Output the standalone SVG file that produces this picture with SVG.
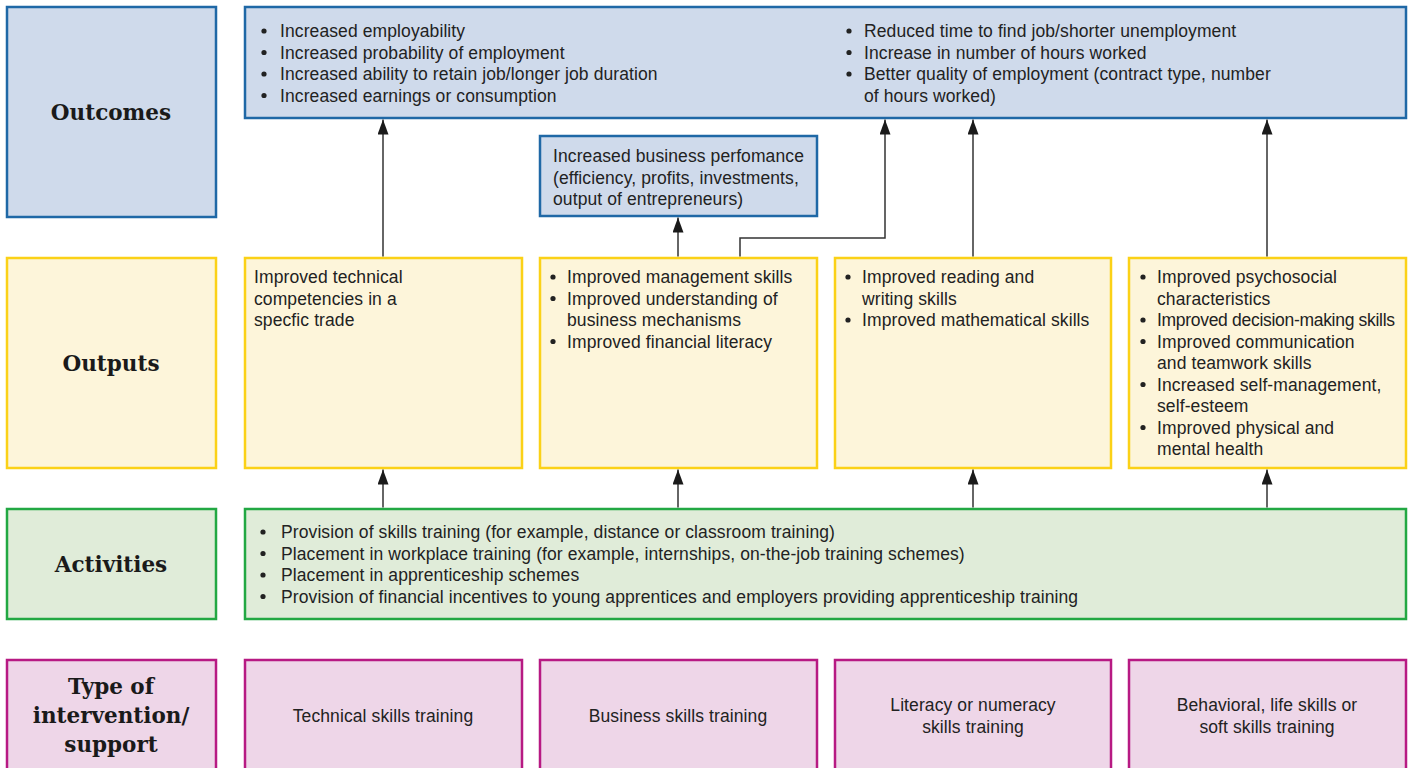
<svg xmlns="http://www.w3.org/2000/svg" width="1412" height="768" viewBox="0 0 1412 768">
<defs>
<marker id="ah" viewBox="0 0 15 11" refX="15" refY="5.5" markerWidth="15" markerHeight="11" markerUnits="userSpaceOnUse" orient="auto">
<path d="M0,0 L15,5.5 L0,11 Z" fill="#1a1a1a"/>
</marker>
<style>
.blue{fill:#cfdaeb;stroke:#1f68a6;stroke-width:2.5}
.yel{fill:#fdf5da;stroke:#fbd117;stroke-width:2.5}
.grn{fill:#e0ecd9;stroke:#22a843;stroke-width:2.5}
.mag{fill:#eed6e8;stroke:#b71a83;stroke-width:2.5}
.lab{font-family:"DejaVu Serif",serif;font-weight:bold;font-size:21.5px;fill:#1a1a1a;text-anchor:middle}
.t{font-family:"Liberation Sans",Arial,sans-serif;font-size:17.5px;fill:#222;letter-spacing:0.1px}
.tight{letter-spacing:-0.3px}
.c{text-anchor:middle}
.b{fill:#222}
.con{fill:none;stroke:#333;stroke-width:1.5}
</style>
</defs>

<g id="row-labels">
<g id="lab-outcomes"><rect class="blue" x="7" y="7" width="209" height="210"/><text class="lab" x="111" y="120">Outcomes</text></g>
<g id="lab-outputs"><rect class="yel" x="7" y="258" width="209" height="210"/><text class="lab" x="111" y="371">Outputs</text></g>
<g id="lab-activities"><rect class="grn" x="7" y="509" width="209" height="110"/><text class="lab" x="111" y="572">Activities</text></g>
<g id="lab-type"><rect class="mag" x="7" y="660" width="209" height="120"/>
<text class="lab" x="111" y="694">Type of</text><text class="lab" x="111" y="723">intervention/</text><text class="lab" x="111" y="752">support</text></g>
</g>

<g id="outcomes">
<rect class="blue" x="245" y="7" width="1161" height="111"/>
<g class="b"><circle cx="264" cy="31" r="2.6"/><circle cx="264" cy="52.5" r="2.6"/><circle cx="264" cy="74" r="2.6"/><circle cx="264" cy="95.5" r="2.6"/>
<circle cx="849" cy="31" r="2.6"/><circle cx="849" cy="52.5" r="2.6"/><circle cx="849" cy="74" r="2.6"/></g>
<text class="t" x="280" y="37">Increased employability</text>
<text class="t" x="280" y="58.5">Increased probability of employment</text>
<text class="t" x="280" y="80">Increased ability to retain job/longer job duration</text>
<text class="t" x="280" y="101.5">Increased earnings or consumption</text>
<text class="t" x="864" y="37">Reduced time to find job/shorter unemployment</text>
<text class="t" x="864" y="58.5">Increase in number of hours worked</text>
<text class="t" x="864" y="80">Better quality of employment (contract type, number</text>
<text class="t" x="864" y="101.5">of hours worked)</text>
</g>

<g id="business-performance">
<rect class="blue" x="540" y="136" width="277" height="80"/>
<text class="t" x="553" y="162">Increased business perfomance</text>
<text class="t" x="553" y="183.5">(efficiency, profits, investments,</text>
<text class="t" x="553" y="205">output of entrepreneurs)</text>
</g>

<g id="output-technical">
<rect class="yel" x="245" y="258" width="277" height="210"/>
<text class="t" x="254" y="283">Improved technical</text>
<text class="t" x="254" y="304.5">competencies in a</text>
<text class="t" x="254" y="326">specfic trade</text>
</g>

<g id="output-business">
<rect class="yel" x="540" y="258" width="277" height="210"/>
<g class="b"><circle cx="553" cy="277" r="2.6"/><circle cx="553" cy="298.5" r="2.6"/><circle cx="553" cy="341.5" r="2.6"/></g>
<text class="t" x="567" y="283">Improved management skills</text>
<text class="t" x="567" y="304.5">Improved understanding of</text>
<text class="t" x="567" y="326">business mechanisms</text>
<text class="t" x="567" y="347.5">Improved financial literacy</text>
</g>

<g id="output-literacy">
<rect class="yel" x="835" y="258" width="276" height="210"/>
<g class="b"><circle cx="848" cy="277" r="2.6"/><circle cx="848" cy="320" r="2.6"/></g>
<text class="t" x="862" y="283">Improved reading and</text>
<text class="t" x="862" y="304.5">writing skills</text>
<text class="t" x="862" y="326">Improved mathematical skills</text>
</g>

<g id="output-behavioral">
<rect class="yel" x="1129" y="258" width="277" height="210"/>
<g class="b"><circle cx="1143" cy="277" r="2.6"/><circle cx="1143" cy="320" r="2.6"/><circle cx="1143" cy="341.5" r="2.6"/><circle cx="1143" cy="384.5" r="2.6"/><circle cx="1143" cy="427.5" r="2.6"/></g>
<text class="t" x="1157" y="283">Improved psychosocial</text>
<text class="t" x="1157" y="304.5">characteristics</text>
<text class="t tight" x="1157" y="326">Improved decision-making skills</text>
<text class="t" x="1157" y="347.5">Improved communication</text>
<text class="t" x="1157" y="369">and teamwork skills</text>
<text class="t" x="1157" y="390.5">Increased self-management,</text>
<text class="t" x="1157" y="412">self-esteem</text>
<text class="t" x="1157" y="433.5">Improved physical and</text>
<text class="t" x="1157" y="455">mental health</text>
</g>

<g id="activities">
<rect class="grn" x="245" y="509" width="1161" height="110"/>
<g class="b"><circle cx="263" cy="532" r="2.6"/><circle cx="263" cy="553.5" r="2.6"/><circle cx="263" cy="575" r="2.6"/><circle cx="263" cy="596.5" r="2.6"/></g>
<text class="t" x="281" y="538">Provision of skills training (for example, distance or classroom training)</text>
<text class="t" x="281" y="559.5">Placement in workplace training (for example, internships, on-the-job training schemes)</text>
<text class="t" x="281" y="581">Placement in apprenticeship schemes</text>
<text class="t" x="281" y="602.5">Provision of financial incentives to young apprentices and employers providing apprenticeship training</text>
</g>

<g id="type-technical"><rect class="mag" x="245" y="660" width="277" height="120"/><text class="t c" x="383" y="722">Technical skills training</text></g>
<g id="type-business"><rect class="mag" x="540" y="660" width="277" height="120"/><text class="t c" x="678" y="722">Business skills training</text></g>
<g id="type-literacy"><rect class="mag" x="835" y="660" width="276" height="120"/><text class="t c" x="973" y="711">Literacy or numeracy</text><text class="t c" x="973" y="732.5">skills training</text></g>
<g id="type-behavioral"><rect class="mag" x="1129" y="660" width="277" height="120"/><text class="t c" x="1267" y="711">Behavioral, life skills or</text><text class="t c" x="1267" y="732.5">soft skills training</text></g>

<g id="connectors">
<line class="con" x1="383" y1="256.5" x2="383" y2="119.5" marker-end="url(#ah)"/>
<line class="con" x1="678" y1="256.5" x2="678" y2="217.5" marker-end="url(#ah)"/>
<polyline class="con" points="740,256.5 740,238 885,238 885,119.5" marker-end="url(#ah)"/>
<line class="con" x1="973" y1="256.5" x2="973" y2="119.5" marker-end="url(#ah)"/>
<line class="con" x1="1267" y1="256.5" x2="1267" y2="119.5" marker-end="url(#ah)"/>
<line class="con" x1="383" y1="507.5" x2="383" y2="469.5" marker-end="url(#ah)"/>
<line class="con" x1="678" y1="507.5" x2="678" y2="469.5" marker-end="url(#ah)"/>
<line class="con" x1="973" y1="507.5" x2="973" y2="469.5" marker-end="url(#ah)"/>
<line class="con" x1="1267" y1="507.5" x2="1267" y2="469.5" marker-end="url(#ah)"/>
</g>
</svg>
